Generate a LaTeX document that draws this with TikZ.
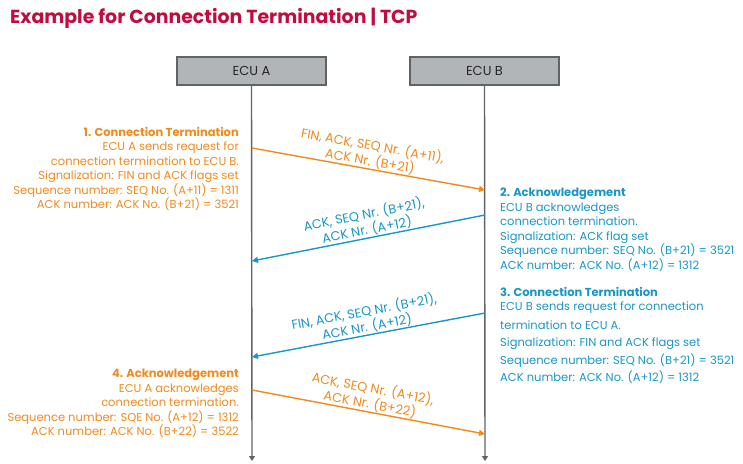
\documentclass[tikz,border=0pt]{standalone}
\usepackage{fontspec}
\setmainfont{Poppins}
\usetikzlibrary{arrows.meta}
\definecolor{titlered}{HTML}{C00D3F}
\definecolor{orng}{HTML}{F08A1C}
\definecolor{blu}{HTML}{1996C8}
\definecolor{boxfill}{HTML}{B1B5B8}
\definecolor{lifegray}{HTML}{5F6468}
\begin{document}
\begin{tikzpicture}[x=1pt,y=-1pt,
  ecu/.style={draw=lifegray, line width=1.2pt, fill=boxfill, minimum width=149pt, minimum height=28pt, inner sep=0pt, font=\fontsize{13}{15}\selectfont, text=black!85},
  life/.style={draw=lifegray, line width=1.4pt, -{Triangle[length=5pt,width=6pt]}},
  msg/.style={line width=1.4pt, -{Triangle[length=6pt,width=6pt]}},
  msglabel/.style={sloped, above, align=center, inner sep=0.5pt, font=\fontsize{12.8}{15.5}\selectfont},
  info/.style={inner sep=0pt, font=\fontsize{11.5}{14.5}\selectfont}
]
\useasboundingbox (0,0) rectangle (743,463);
\node[anchor=base west, inner sep=0pt, text=titlered, font=\fontsize{18.9}{20}\selectfont\bfseries] (title) at (10,23) {Example for Connection Termination | TCP};

\node[ecu] (ecuA) at (251.5,71) {ECU A};
\node[ecu] (ecuB) at (484.5,71) {ECU B};
\coordinate (endA) at (252,461);
\coordinate (endB) at (485,461);
\draw[life] (ecuA.south) -- (endA);
\draw[life] (ecuB.south) -- (endB);

\coordinate (a1) at (252,148);
\coordinate (b1) at (485,190);
\coordinate (b2) at (485,215);
\coordinate (a2) at (252,261);
\coordinate (b3) at (485,313);
\coordinate (a3) at (252,357);
\coordinate (a4) at (252,390);
\coordinate (b4) at (485,434);

\draw[msg, orng] (a1) -- node[msglabel, text=orng] (l1) {FIN, ACK, SEQ Nr. (A+11),\\ACK Nr. (B+21)} (b1);
\draw[msg, blu] (b2) -- node[msglabel, text=blu] (l2) {ACK, SEQ Nr. (B+21),\\ACK Nr. (A+12)} (a2);
\draw[msg, blu] (b3) -- node[msglabel, text=blu] (l3) {FIN, ACK, SEQ Nr. (B+21),\\ACK Nr. (A+12)} (a3);
\draw[msg, orng] (a4) -- node[msglabel, text=orng] (l4) {ACK, SEQ Nr. (A+12),\\ACK Nr. (B+22)} (b4);

\node[info, anchor=north east, align=right, text=orng] (t1) at (239,127)
  {\textbf{1. Connection Termination}\\ECU A sends request for\\connection termination to ECU B.\\Signalization: FIN and ACK flags set\\Sequence number: SEQ No. (A+11) = 1311\\ACK number: ACK No. (B+21) = 3521};
\node[info, anchor=north west, align=left, text=blu] (t2) at (500,188)
  {\textbf{2. Acknowledgement}\\ECU B acknowledges\\connection termination.\\Signalization: ACK flag set\\Sequence number: SEQ No. (B+21) = 3521\\ACK number: ACK No. (A+12) = 1312};
\node[info, anchor=north west, align=left, text=blu] (t3) at (500,287)
  {\textbf{3. Connection Termination}\\ECU B sends request for connection\\[4pt]termination to ECU A.\\[3pt]Signalization: FIN and ACK flags set\\[3pt]Sequence number: SEQ No. (B+21) = 3521\\[3pt]ACK number: ACK No. (A+12) = 1312};
\node[info, anchor=north east, align=right, text=orng] (t4) at (239,369)
  {\textbf{4. Acknowledgement}\\ECU A acknowledges\\connection termination.\\Sequence number: SQE No. (A+12) = 1312\\ACK number: ACK No. (B+22) = 3522};
\end{tikzpicture}
\end{document}
